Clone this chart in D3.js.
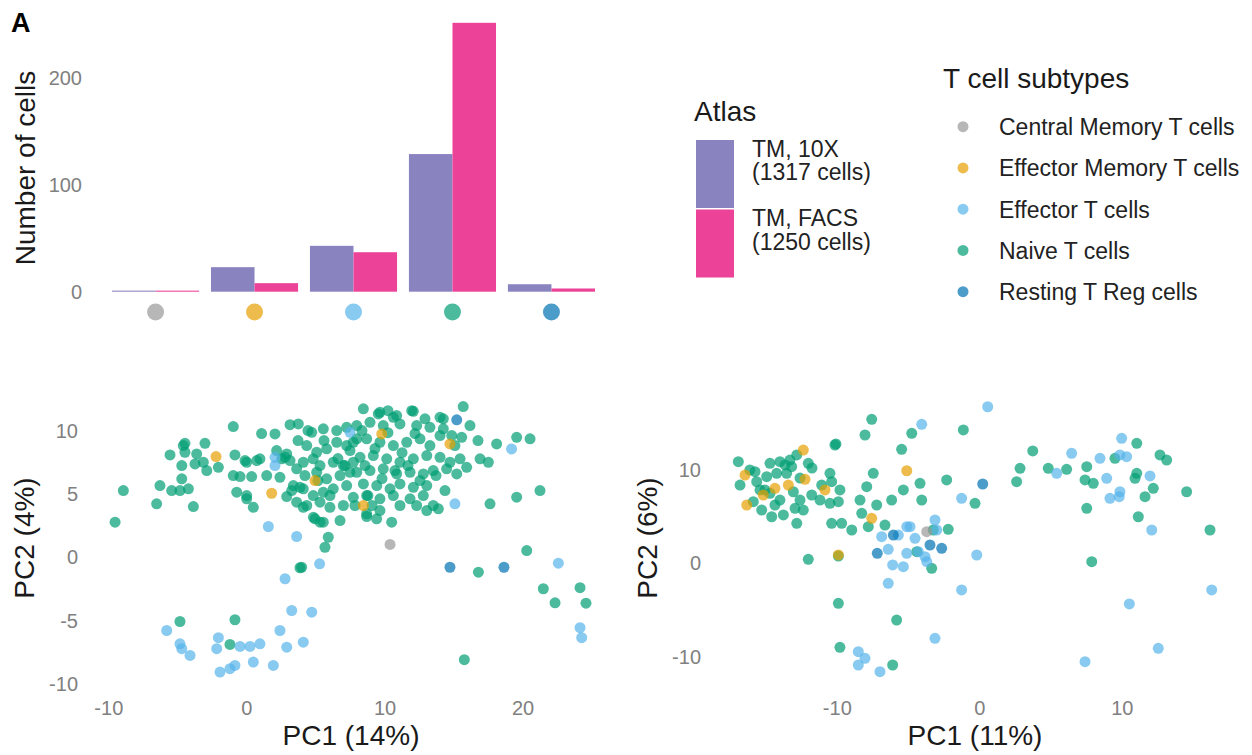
<!DOCTYPE html>
<html>
<head>
<meta charset="utf-8">
<script src="https://cdn.jsdelivr.net/npm/d3@7"></script>
<style>
  html, body { margin: 0; padding: 0; background: #ffffff; }
  svg { display: block; font-family: "Liberation Sans", Arial, sans-serif; }
</style>
</head>
<body>
<svg id="fig" width="1252" height="755"></svg>
<script>
// ---- Data -------------------------------------------------------------
const subtypes = ["Central Memory T cells", "Effector Memory T cells", "Effector T cells", "Naive T cells", "Resting T Reg cells"];
const subtypeColors = ["#999999", "#E69F00", "#56B4E9", "#009E73", "#0072B2"];

const atlases = ["TM, 10X", "TM, FACS"];
const atlasLabels = [["TM, 10X", "(1317 cells)"], ["TM, FACS", "(1250 cells)"]];
const atlasColors = ["#8984c0", "#ec4399"];

// cells per subtype, one array per atlas (same order as subtypes)
const countsTM10X = [1, 23, 43, 129, 7];
const countsTMFACS = [1, 8, 37, 252, 3];

const barTicks = [0, 100, 200];
const pcaLeftXTicks = [-10, 0, 10, 20];
const pcaLeftYTicks = [-10, -5, 0, 5, 10];
const pcaRightXTicks = [-10, 0, 10];
const pcaRightYTicks = [-10, 0, 10];

// PCA of the 10X atlas: [PC1, PC2] per cell, grouped by subtype
const leftNaive = [
  [-0.95,10.35],[3.16,10.5],[3.76,10.56],[1.1,9.8],[2.07,9.77],[-4.45,9.03],[-3.0,9.03],[-5.53,8.11],[-4.45,8.32],[-3.6,8.19],
  [-3.12,7.53],[-2.03,7.13],[-2.87,6.87],[-4.68,7.27],[-4.68,6.22],[-0.83,8.11],[0.02,7.53],[0.75,7.66],[-0.1,7.66],[-0.95,6.48],
  [-0.46,6.4],[0.38,6.4],[1.47,6.48],[2.43,6.34],[2.19,8.45],[2.8,7.92],[-6.26,5.69],[-5.41,5.29],[-4.81,5.29],[-4.2,5.43],
  [-8.91,5.29],[-6.5,4.24],[-3.84,4.03],[-9.51,2.79],[-0.7,5.16],[0.02,4.64],[0.5,3.97],[2.92,4.82],[3.28,5.29],[3.88,5.55],
  [4.12,3.97],[4.97,3.06],[3.88,-0.81],[-4.81,-5.06],[-0.83,-4.92],[-1.19,-6.87],
  [15.7,11.93],[8.47,11.75],[9.55,11.35],[10.64,11.08],[12.09,11.56],[14.26,10.96],[18.12,8.98],[19.57,9.5],[20.54,9.38],[16.92,7.8],
  [17.52,7.53],[15.95,7.13],[21.26,5.29],[19.57,4.77],[17.64,4.24],[13.9,3.85],[13.53,4.11],[10.52,2.79],[9.43,3.06],[8.71,3.24],
  [5.33,2.79],[4.85,3.18],[5.93,1.6],[5.69,0.81],[4.0,-0.77],[16.8,-1.16],[20.3,0.55],[21.5,-2.47],[22.35,-3.58],[24.16,-2.39],
  [24.59,-3.61],[15.78,-8.08],
  [4.73,9.9],[5.57,10.17],[6.54,10.03],[7.26,10.29],[4.37,8.85],[5.09,8.32],[5.81,8.59],[6.54,9.11],[7.26,8.85],[7.99,9.38],
  [4.12,7.53],[4.84,7.8],[5.33,7.27],[6.29,7.53],[7.02,7.27],[7.74,7.53],[3.64,7.01],[4.24,6.48],[5.09,6.74],[5.81,6.22],
  [6.78,6.48],[7.5,6.74],[3.4,5.69],[4.12,5.43],[4.84,4.9],[5.57,5.16],[6.29,5.43],[7.26,5.69],[3.64,4.37],[4.37,4.11],
  [5.33,4.37],[6.05,3.97],[7.02,4.11],[5.57,2.79],[-4.57,8.85],[-3.72,7.4],[0.98,7.8],[2.56,7.8],[2.92,8.19],[0.02,4.9],
  [9.67,11.48],[10.88,11.22],[11.97,11.61],[12.93,10.96],[14.02,11.08],[7.99,10.43],[8.95,10.69],[9.91,10.43],[11.12,10.56],[12.33,10.43],
  [13.29,10.29],[14.26,10.17],[7.74,9.11],[8.71,9.38],[9.67,9.11],[10.64,8.85],[11.61,9.11],[12.57,9.38],[13.29,8.85],[14.02,9.64],
  [14.87,9.64],[15.59,9.5],[8.23,7.92],[9.19,8.06],[10.16,7.8],[11.12,7.53],[12.09,7.8],[13.06,8.06],[14.02,7.92],[14.74,7.53],
  [15.47,7.8],[7.99,6.74],[8.95,6.87],[9.91,7.01],[10.88,6.61],[11.85,6.74],[12.81,6.61],[13.53,6.87],[14.5,7.01],[15.23,6.61],
  [8.47,5.82],[9.44,5.69],[10.4,5.43],[11.12,5.82],[12.09,5.55],[13.06,5.69],[7.74,4.76],[8.71,4.9],[9.67,4.64],[10.64,4.9],
  [11.85,4.64],[12.81,4.9],[8.71,3.45],[9.67,3.71],[12.33,4.11],[13.06,3.71],
  [7.5,8.45],[7.14,7.27],[8.37,10.03],[9.31,8.61],[10.25,9.87],[11.27,8.29],[12.21,9.8],[11.7,7.27],[12.57,6.08],[10.76,6.87],
  [9.82,6.24],[8.8,4.9],[7.86,4.11],[6.78,2.92],[6.05,4.9],[5.18,6.08],[4.46,10.03],[3.74,9.24],[3.16,7.66],[15.1,8.85],
  [16.19,10.43],[16.77,9.24],[13.73,6.48],[14.38,5.29],[11.12,4.11],[8.59,7.27],[6.63,7.82],[5.62,9.24],[9.1,4.11],[10.25,11.61]
];
const leftEffector = [
  [2.07,7.92],[2.07,7.27],[1.59,2.45],[3.64,1.66],[2.8,-1.68],[5.3,-0.5],[3.28,-4.19],[4.73,-4.32],[-5.77,-5.77],[-4.81,-6.82],
  [-4.68,-7.21],[-4.08,-7.74],[-2.03,-6.34],[-2.15,-7.21],[-0.46,-7.03],[0.26,-7.03],[0.98,-6.82],[2.43,-5.77],[2.92,-7.09],[4.12,-6.69],
  [-1.91,-9.06],[-1.19,-8.79],[-0.83,-8.53],[0.5,-8.27],[1.95,-8.53],[19.2,8.58],[15.1,4.24],[22.59,-0.45],[24.16,-5.55],[24.28,-6.34],
  [7.5,9.9]
];
const leftEffectorMemory = [[-2.2,7.98],[1.83,5.08],[14.74,8.98],[9.8,9.77],[8.47,4.11],[4.97,6.08]];
const leftCentralMemory = [[10.4,1.03]];
const leftRestingTReg = [[15.23,10.88],[14.74,-0.77],[18.65,-0.77]];

// PCA of the FACS atlas
const rightNaive = [
  [-7.55,15.43],[-8.02,13.75],[-4.74,13.93],[-5.45,12.22],[-10.06,12.79],[-4.16,8.57],[-7.44,9.65],[-7.9,8.21],[-8.37,6.78],[-8.25,5.36],
  [-7.2,6.25],[-6.15,6.78],[-5.33,7.86],[-4.04,6.78],[-7.79,3.92],[-6.62,4.1],[-12.0,0.43],[-9.89,0.78],[-9.89,-4.29],[-5.8,-6.08],
  [-9.78,-9.0],[-6.08,-10.9],
  [-16.91,10.89],[-16.79,8.39],[-15.74,9.82],[-15.62,8.75],[-15.39,7.86],[-15.86,6.6],[-14.69,10.72],[-13.99,10.89],[-13.29,11.07],[-12.81,11.61],
  [-14.92,9.28],[-14.22,9.65],[-13.52,9.65],[-13.17,10.35],[-12.0,10.72],[-14.69,7.5],[-13.99,6.78],[-13.05,7.67],[-12.58,6.78],[-15.27,5.71],
  [-14.57,4.99],[-13.75,5.18],[-12.93,5.89],[-12.35,5.71],[-12.81,4.29],[-11.76,7.32],[-11.06,8.39],[-10.48,9.65],[-10.36,8.75],[-11.18,6.78],
  [-10.48,6.43],[-9.78,7.86],[-9.89,6.6],[-10.36,4.29],[-9.66,4.29],[-8.95,3.57],[-10.13,12.68],
  [-16.1,10.0],[-15.04,7.86],[-13.63,10.54],[-12.58,9.14],[-11.74,10.21],[-14.34,6.25],
  [-3.23,3.57],[-2.18,3.64],[-4.39,1.24],[-3.34,-0.54],[-0.3,6.43],
  [-1.12,14.29],[3.75,12.04],[2.86,10.18],[2.62,8.75],[4.84,10.18],[6.13,10.07],[-2.29,8.93],[7.54,10.35],[7.42,8.93],[8.0,8.57],
  [9.52,11.25],[11.05,12.86],[12.68,11.61],[13.15,11.07],[11.05,9.65],[10.93,9.11],[12.21,8.04],[11.63,7.14],[11.16,4.99],[14.55,7.67],
  [16.19,3.57],[7.54,5.89],[7.89,0.17]
];
const rightEffector = [
  [-4.04,14.9],[-5.09,3.92],[-5.68,3.03],[-6.39,1.5],[-6.08,-0.18],[-5.33,-0.36],[-6.39,-2.14],[-3.11,-8.04],[-8.49,-9.47],[-8.02,-10.18],
  [-8.49,-10.9],[-6.97,-11.62],[-6.85,2.85],[-4.86,3.92],[-4.51,2.68],[-3.11,4.64],[-2.99,3.57],[-5.09,1.07],[-4.28,1.24],[-3.81,0.71],
  [-3.69,0.17],[-0.18,0.89],[-1.24,6.96],[0.59,16.78],[-1.24,-2.86],[8.47,11.25],[9.87,11.61],[10.34,11.43],[9.99,13.4],[11.98,9.36],
  [8.94,9.11],[9.17,6.96],[9.87,7.67],[9.82,7.14],[12.1,3.57],[5.43,9.65],[6.48,11.79],[16.31,-2.86],[10.53,-4.36],[7.42,-10.55],
  [12.56,-9.11]
];
const rightEffectorMemory = [
  [-5.09,9.92],[-7.55,4.82],[-16.44,9.46],[-16.32,6.25],[-12.35,12.14],[-14.34,8.04],[-15.16,7.32],[-13.4,8.39],[-12.23,9.0],[-10.83,7.86],
  [-9.89,0.9]
];
const rightCentralMemory = [[-3.69,3.39]];
const rightRestingTReg = [[-6.03,3.03],[-7.16,1.07],[-3.46,1.96],[-2.64,1.61],[0.24,8.5]];

// ---- Styling helpers ----------------------------------------------------
const svg = d3.select("#fig");
const tickColor = "#808080";
const titleColor = "#1a1a1a";
const tickFont = 20;
const titleFont = 28;
const legendFont = 23;
const plainNumber = d => String(d);   // ASCII hyphen for negatives

function styleAxis(g) {
  g.select(".domain").remove();
  g.selectAll(".tick line").remove();
  g.selectAll(".tick text")
    .attr("fill", tickColor)
    .attr("font-size", tickFont)
    .attr("font-family", "Liberation Sans, Arial, sans-serif");
}

// Panel tag
svg.append("text")
  .attr("x", 11).attr("y", 32)
  .attr("font-size", 27).attr("font-weight", "bold")
  .attr("fill", "#000")
  .text("A");

// ---- Bar chart: cells per subtype and atlas ------------------------------
const barX = d3.scaleBand().domain(subtypes).range([112, 595]).paddingInner(0.12).paddingOuter(0);
const barSub = d3.scaleBand().domain(atlases).range([0, barX.bandwidth()]);
const barY = d3.scaleLinear().domain([0, 200]).range([291.7, 78.3]);

const barRows = subtypes.map((s, i) => ({ subtype: s, values: [countsTM10X[i], countsTMFACS[i]] }));

const barGroups = svg.append("g").selectAll("g")
  .data(barRows).join("g")
  .attr("transform", d => `translate(${barX(d.subtype)},0)`);

barGroups.selectAll("rect")
  .data(d => d.values.map((v, j) => ({ atlas: atlases[j], value: v, color: atlasColors[j] })))
  .join("rect")
  .attr("x", d => barSub(d.atlas))
  .attr("width", barSub.bandwidth())
  .attr("y", d => barY(d.value))
  .attr("height", d => barY(0) - barY(d.value))
  .attr("fill", d => d.color);

svg.append("g")
  .attr("transform", "translate(82,0)")
  .call(d3.axisLeft(barY).tickValues(barTicks).tickFormat(plainNumber).tickSize(0).tickPadding(0))
  .call(styleAxis);

// subtype markers in place of category labels
svg.append("g").selectAll("circle")
  .data(subtypes).join("circle")
  .attr("cx", d => barX(d) + barX.bandwidth() / 2)
  .attr("cy", 312)
  .attr("r", 8.5)
  .attr("fill", (d, i) => subtypeColors[i])
  .attr("fill-opacity", 0.7);

svg.append("text")
  .attr("transform", "translate(35,168) rotate(-90)")
  .attr("text-anchor", "middle")
  .attr("font-size", titleFont)
  .attr("fill", titleColor)
  .text("Number of cells");

// ---- Atlas legend -------------------------------------------------------
const atlasLegend = svg.append("g");
atlasLegend.append("text")
  .attr("x", 694).attr("y", 121)
  .attr("font-size", titleFont).attr("fill", titleColor)
  .text("Atlas");
atlasLabels.forEach((lines, i) => {
  const top = 140 + i * 69.5;
  atlasLegend.append("rect")
    .attr("x", 696).attr("y", top)
    .attr("width", 38).attr("height", 68)
    .attr("fill", atlasColors[i]);
  lines.forEach((t, k) => {
    atlasLegend.append("text")
      .attr("x", 752).attr("y", top + 16.5 + k * 23.5)
      .attr("font-size", legendFont).attr("fill", "#222")
      .text(t);
  });
});

// ---- Subtype legend -----------------------------------------------------
const typeLegend = svg.append("g");
typeLegend.append("text")
  .attr("x", 943).attr("y", 88)
  .attr("font-size", titleFont).attr("fill", titleColor)
  .text("T cell subtypes");
subtypes.forEach((s, i) => {
  const cy = 126.7 + i * 41.25;
  typeLegend.append("circle")
    .attr("cx", 963).attr("cy", cy).attr("r", 5.5)
    .attr("fill", subtypeColors[i]).attr("fill-opacity", 0.7);
  typeLegend.append("text")
    .attr("x", 999).attr("y", cy + 8.5)
    .attr("font-size", legendFont).attr("fill", "#222")
    .text(s);
});

// ---- PCA scatter panels ----------------------------------------------------
function scatterPanel(cfg) {
  const x = d3.scaleLinear().domain([-10, 10]).range(cfg.xRange);
  const y = d3.scaleLinear().domain([-10, 10]).range(cfg.yRange);
  const g = svg.append("g");

  // drawing order: naive first, the rarer subtypes on top
  const layers = [
    { pts: cfg.naive, color: subtypeColors[3] },
    { pts: cfg.effector, color: subtypeColors[2] },
    { pts: cfg.effectorMemory, color: subtypeColors[1] },
    { pts: cfg.centralMemory, color: subtypeColors[0] },
    { pts: cfg.resting, color: subtypeColors[4] }
  ];
  layers.forEach(layer => {
    g.append("g").selectAll("circle")
      .data(layer.pts).join("circle")
      .attr("cx", d => x(d[0]))
      .attr("cy", d => y(d[1]))
      .attr("r", 5.5)
      .attr("fill", layer.color)
      .attr("fill-opacity", 0.7);
  });

  svg.append("g")
    .attr("transform", `translate(0,${cfg.xAxisY})`)
    .call(d3.axisBottom(x).tickValues(cfg.xTicks).tickFormat(plainNumber).tickSize(0).tickPadding(0))
    .call(styleAxis);
  svg.append("g")
    .attr("transform", `translate(${cfg.yAxisX},0)`)
    .call(d3.axisLeft(y).tickValues(cfg.yTicks).tickFormat(plainNumber).tickSize(0).tickPadding(0))
    .call(styleAxis);

  svg.append("text")
    .attr("x", cfg.xTitleX).attr("y", 745)
    .attr("text-anchor", "middle")
    .attr("font-size", titleFont).attr("fill", titleColor)
    .text(cfg.xTitle);
  svg.append("text")
    .attr("transform", `translate(${cfg.yTitleX},538) rotate(-90)`)
    .attr("text-anchor", "middle")
    .attr("font-size", titleFont).attr("fill", titleColor)
    .text(cfg.yTitle);
}

scatterPanel({
  xRange: [246.4 - 138.1, 246.4 + 138.1],
  yRange: [684, 431],
  xTicks: pcaLeftXTicks, yTicks: pcaLeftYTicks,
  xAxisY: 701, yAxisX: 78,
  xTitle: "PC1 (14%)", xTitleX: 351,
  yTitle: "PC2 (4%)", yTitleX: 34,
  naive: leftNaive, effector: leftEffector, effectorMemory: leftEffectorMemory,
  centralMemory: leftCentralMemory, resting: leftRestingTReg
});

scatterPanel({
  xRange: [836.8, 1121.8],
  yRange: [656.6, 470],
  xTicks: pcaRightXTicks, yTicks: pcaRightYTicks,
  xAxisY: 701, yAxisX: 701,
  xTitle: "PC1 (11%)", xTitleX: 975,
  yTitle: "PC2 (6%)", yTitleX: 657,
  naive: rightNaive, effector: rightEffector, effectorMemory: rightEffectorMemory,
  centralMemory: rightCentralMemory, resting: rightRestingTReg
});
</script>
</body>
</html>
